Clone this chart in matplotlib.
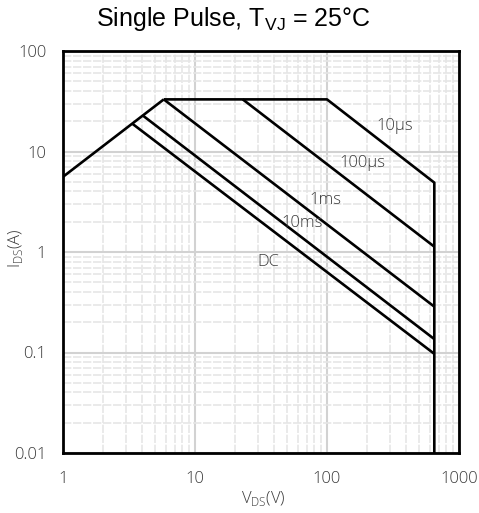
import matplotlib
matplotlib.use("Agg")
import matplotlib.pyplot as plt
from matplotlib.ticker import LogLocator, FixedLocator, NullFormatter

plt.rcParams['mathtext.fontset'] = 'custom'
plt.rcParams['mathtext.rm'] = 'Open Sans:light'
plt.rcParams['mathtext.sf'] = 'Liberation Sans'

# Data (V_DS in V, I_DS in A)
rds_v = [1, 5.8]
rds_i = [5.6, 33]
us10_v = [5.8, 100, 650, 650]
us10_i = [33, 33, 4.9, 0.01]
us100_v = [23, 650]
us100_i = [33, 1.13]
ms1_v = [5.8, 650]
ms1_i = [33, 0.286]
ms10_v = [4.06, 650]
ms10_i = [22.6, 0.136]
dc_v = [3.37, 650]
dc_i = [18.8, 0.097]

labels = ["10µs", "100µs", "1ms", "10ms", "DC"]
label_v = [327, 184, 96.6, 64.7, 35.7]
label_i = [17.9, 7.69, 3.29, 1.94, 0.80]

xticks = [1, 10, 100, 1000]
xtick_labels = ["1", "10", "100", "1000"]
yticks = [0.01, 0.1, 1, 10, 100]
ytick_labels = ["0.01", "0.1", "1", "10", "100"]

txt_color = '#3a3a3a'

fig = plt.figure(figsize=(4.79, 5.13), dpi=100)
ax = fig.add_axes([63/479, 60/513, 396/479, 402/513])
ax.set_xscale('log')
ax.set_yscale('log')
ax.set_xlim(1, 1000)
ax.set_ylim(0.01, 100)

ax.xaxis.set_major_locator(FixedLocator(xticks))
ax.yaxis.set_major_locator(FixedLocator(yticks))
ax.set_xticklabels(xtick_labels)
ax.set_yticklabels(ytick_labels)
ax.xaxis.set_minor_locator(LogLocator(base=10, subs=range(2, 10)))
ax.yaxis.set_minor_locator(LogLocator(base=10, subs=range(2, 10)))
ax.xaxis.set_minor_formatter(NullFormatter())
ax.yaxis.set_minor_formatter(NullFormatter())

ax.grid(True, which='major', color='#d2d2d2', linewidth=1.5)
ax.grid(True, which='minor', color='#e6e6e6', linewidth=1.2, linestyle=(0, (5, 1)))
ax.set_axisbelow(True)

ax.tick_params(which='both', length=0)
ax.tick_params(axis='x', pad=13, labelsize=12, labelcolor=txt_color)
ax.tick_params(axis='y', pad=12, labelsize=12, labelcolor=txt_color)
for t in ax.get_xticklabels() + ax.get_yticklabels():
    t.set_fontfamily('Open Sans')
    t.set_fontweight('light')

for sp in ax.spines.values():
    sp.set_linewidth(2.0)
    sp.set_color('black')

lw = 1.9
for v, i in [(rds_v, rds_i), (us10_v, us10_i), (us100_v, us100_i),
             (ms1_v, ms1_i), (ms10_v, ms10_i), (dc_v, dc_i)]:
    ax.plot(v, i, color='black', linewidth=lw, solid_capstyle='butt')

for lab, x, y in zip(labels, label_v, label_i):
    ax.text(x, y, lab, ha='center', va='center', fontsize=12,
            color=txt_color, family='Open Sans', fontweight='light')

ax.set_xlabel(r'V$_{\mathrm{DS}}$(V)', fontsize=12, color=txt_color,
              family='Open Sans', fontweight='light')
ax.set_ylabel(r'I$_{\mathrm{DS}}$(A)', fontsize=12, color=txt_color,
              family='Open Sans', fontweight='light')
ax.xaxis.set_label_coords((263 - 63) / 396, (453 - 498) / 402)
ax.yaxis.set_label_coords((16 - 63) / 396, 0.51)
ax.xaxis.label.set_va('center')
ax.yaxis.label.set_va('center')

fig.text(233/479, 1 - 19/513, r'Single Pulse, T$_{\mathsf{VJ}}$ = 25°C',
         ha='center', va='center', fontsize=18, family='Liberation Sans',
         color='black')
fig.savefig('out.png', dpi=100)
